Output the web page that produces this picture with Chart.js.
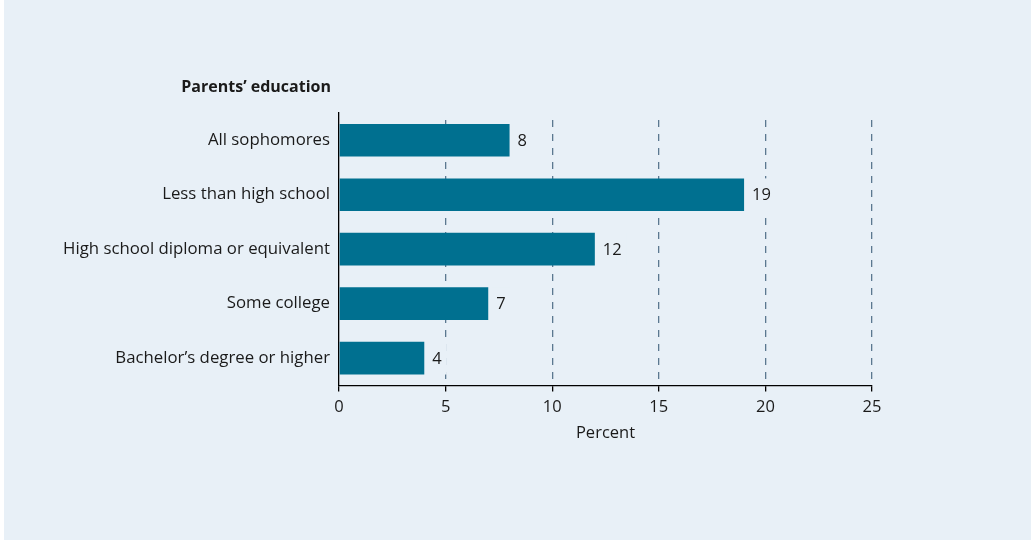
<!DOCTYPE html>
<html>
<head>
<meta charset="utf-8">
<script src="https://cdn.jsdelivr.net/npm/chart.js@4.4.1/dist/chart.umd.min.js"></script>
<style>
  html, body { margin: 0; padding: 0; background: #ffffff; overflow: hidden; }
  #panel { position: absolute; left: 4px; top: 0; width: 1027px; height: 540px; background: #e8f0f7; }
  #myChart { position: absolute; left: 0; top: 0; }
</style>
</head>
<body>
<div id="panel"></div>
<canvas id="myChart" width="1031" height="540"></canvas>
<script>
// datos
const categorias = ['All sophomores', 'Less than high school', 'High school diploma or equivalent', 'Some college', 'Bachelor\u2019s degree or higher'];
const porcentajes = [8, 19, 12, 7, 4];
const ticksX = [0, 5, 10, 15, 20, 25];

const fuente = "'Open Sans', 'Noto Sans', sans-serif";
const fondo = '#e8f0f7';

// escribe el valor al final de cada barra (con fondo que tapa la rejilla) y el título del eje
const etiquetas = {
  id: 'etiquetas',
  afterDatasetsDraw(chart) {
    const ctx = chart.ctx;
    const meta = chart.getDatasetMeta(0);
    ctx.save();
    ctx.font = '16.5px ' + fuente;
    ctx.textBaseline = 'middle';
    ctx.textAlign = 'left';
    meta.data.forEach((bar, i) => {
      const txt = String(porcentajes[i]);
      const w = ctx.measureText(txt).width;
      ctx.fillStyle = fondo;
      ctx.fillRect(bar.x + 3, bar.y - bar.height / 2, w + 10, bar.height);
      ctx.fillStyle = '#1a1a1a';
      ctx.fillText(txt, bar.x + 8, bar.y + 1);
    });
    ctx.font = 'bold 16px ' + fuente;
    ctx.textAlign = 'right';
    ctx.fillText('Parents\u2019 education', chart.scales.y.right - 8, 87);
    ctx.restore();
  }
};

new Chart(document.getElementById('myChart'), {
  type: 'bar',
  data: {
    labels: categorias,
    datasets: [{
      data: porcentajes,
      backgroundColor: '#007090',
      borderWidth: 0,
      barPercentage: 0.6,
      categoryPercentage: 1
    }]
  },
  options: {
    indexAxis: 'y',
    responsive: false,
    animation: false,
    devicePixelRatio: 1,
    layout: { padding: { top: 113, right: 159, bottom: 97, left: 0 } },
    plugins: { legend: { display: false }, tooltip: { enabled: false } },
    scales: {
      x: {
        min: 0,
        max: 25,
        afterBuildTicks(axis) { axis.ticks = ticksX.map(v => ({ value: v })); },
        grid: {
          display: true,
          drawOnChartArea: true,
          drawTicks: true,
          tickLength: 6,
          tickColor: '#000000',
          color: (c) => c.index === 0 ? 'rgba(0,0,0,0)' : '#5b7890',
          lineWidth: 1.3
        },
        border: { display: true, color: '#000000', width: 1.3, dash: [7, 7], dashOffset: 7 },
        ticks: { color: '#1a1a1a', font: { family: fuente, size: 16.5 }, padding: 6 },
        title: { display: true, text: 'Percent', color: '#1a1a1a', font: { family: fuente, size: 16.5 }, padding: { top: 0, bottom: 0 } }
      },
      y: {
        grid: { display: false, drawTicks: false },
        border: { display: true, color: '#000000', width: 1.3 },
        ticks: { color: '#1a1a1a', font: { family: fuente, size: 16.8 }, padding: 9 },
        afterFit(axis) { axis.width = 339; }
      }
    }
  },
  plugins: [etiquetas]
});
</script>
</body>
</html>
